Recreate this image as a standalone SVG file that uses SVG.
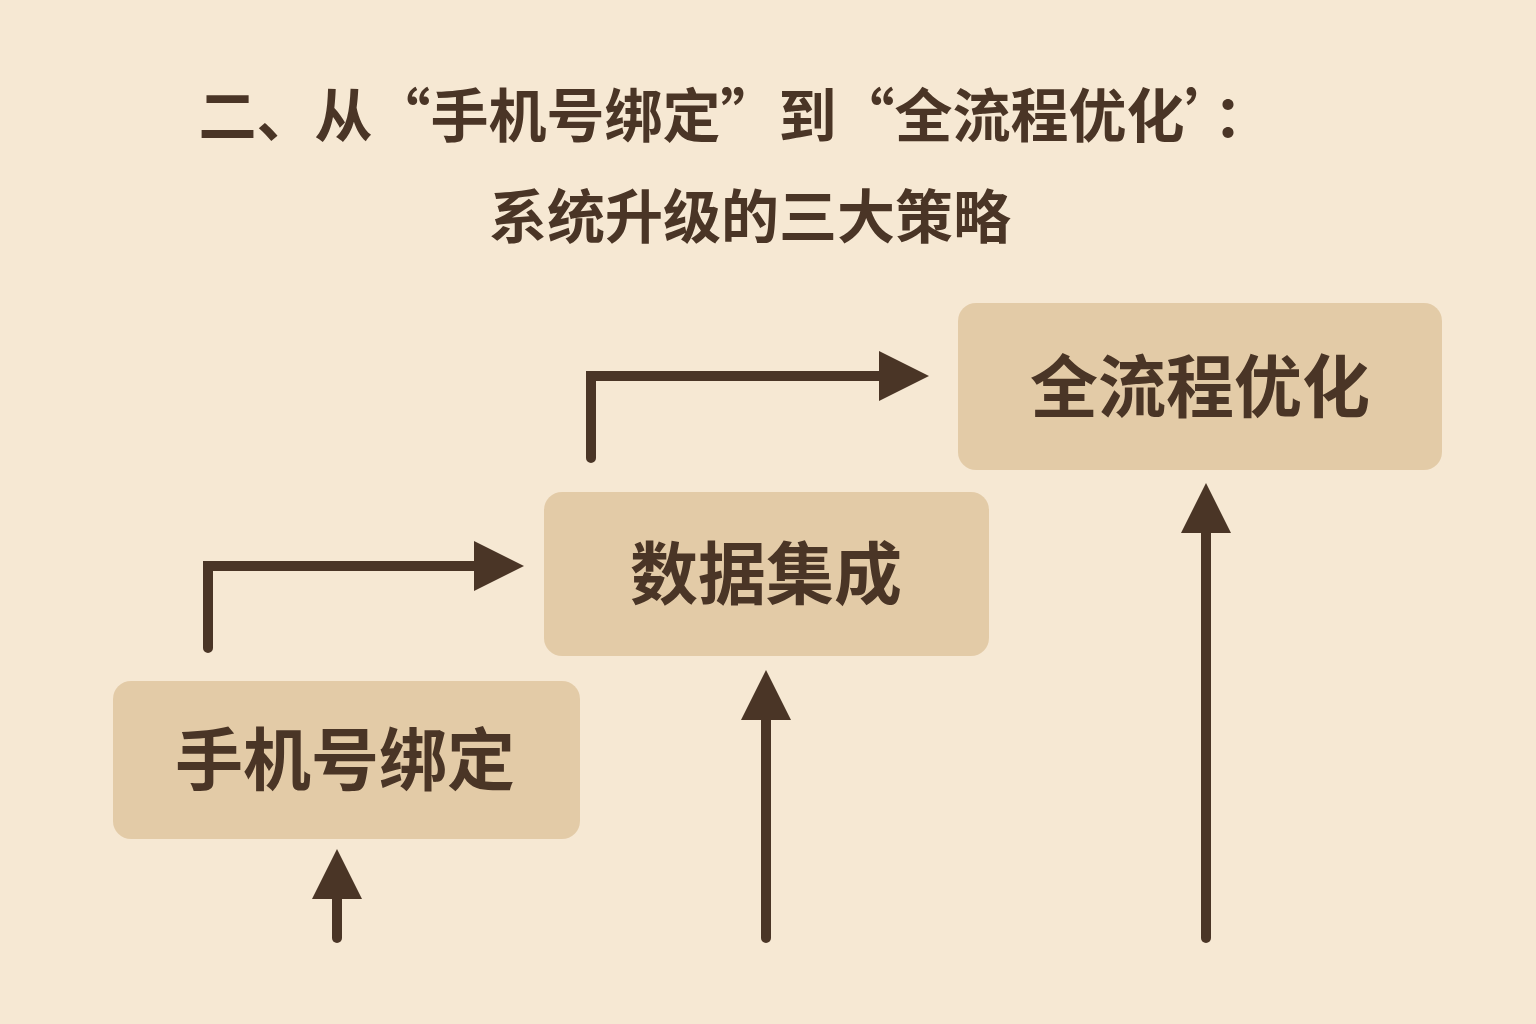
<svg xmlns="http://www.w3.org/2000/svg" width="1536" height="1024" viewBox="0 0 1536 1024">
<style>
.t{font-family:"Noto Sans CJK SC","Noto Sans",sans-serif;font-weight:bold;fill:#4a3526;text-anchor:middle}
.box{fill:#e3cba7}
.ln{stroke:#4a3526;stroke-width:10;fill:none;stroke-linecap:round;stroke-linejoin:miter}
</style>
<defs><marker id="ah" viewBox="0 0 10 10" refX="2" refY="5" markerWidth="5" markerHeight="5" markerUnits="strokeWidth" orient="auto"><path d="M0,0L10,5L0,10z" fill="#4a3526"/></marker></defs>
<rect width="1536" height="1024" fill="#f6e8d3"/>
<text class="t" x="735" y="137" font-size="58">二、从“手机号绑定”到“全流程优化’：</text>
<text class="t" x="750" y="238" font-size="58">系统升级的三大策略</text>
<g id="n1"><rect class="box" x="113" y="681" width="467" height="158" rx="18"/><text class="t" x="345" y="785" font-size="68">手机号绑定</text></g>
<g id="n2"><rect class="box" x="544" y="492" width="445" height="164" rx="18"/><text class="t" x="766" y="599" font-size="68">数据集成</text></g>
<g id="n3"><rect class="box" x="958" y="303" width="484" height="167" rx="18"/><text class="t" x="1200" y="412" font-size="68">全流程优化</text></g>
<g id="connectors">
<path class="ln" d="M208,648V566H484" marker-end="url(#ah)"/>
<path class="ln" d="M591,458V376H889" marker-end="url(#ah)"/>
<path class="ln" d="M337,938V889" marker-end="url(#ah)"/>
<path class="ln" d="M766,938V710" marker-end="url(#ah)"/>
<path class="ln" d="M1206,938V523" marker-end="url(#ah)"/>
</g>
</svg>
